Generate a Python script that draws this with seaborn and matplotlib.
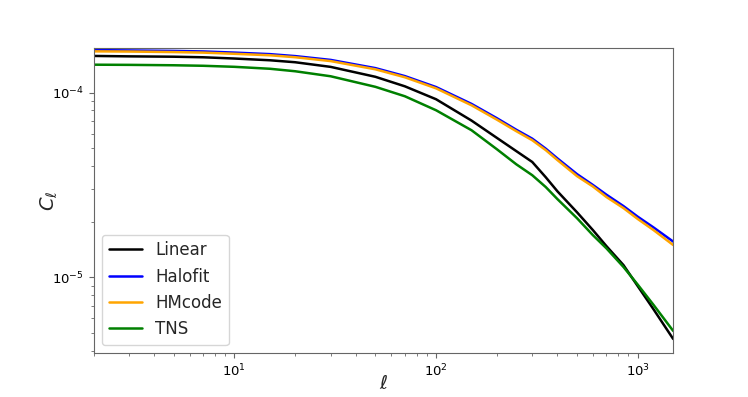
import numpy as np
import pandas as pd
import matplotlib
matplotlib.use('Agg')
import matplotlib.pyplot as plt
import seaborn as sns

# multipole values
ell = [2, 3, 5, 7, 10, 15, 20, 30, 50, 70, 100, 150, 200, 250, 300, 350, 400, 500,
       600, 700, 850, 1000, 1200, 1500]

# angular power spectra C_ell for each model
cl_linear = [1.578e-4, 1.570e-4, 1.563e-4, 1.552e-4, 1.528e-4, 1.495e-4, 1.459e-4, 1.377e-4,
             1.217e-4, 1.081e-4, 9.20e-5, 7.05e-5, 5.69e-5, 4.82e-5, 4.21e-5, 3.48e-5,
             2.92e-5, 2.25e-5, 1.80e-5, 1.475e-5, 1.165e-5, 8.97e-6, 6.70e-6, 4.64e-6]
cl_halofit = [1.697e-4, 1.690e-4, 1.680e-4, 1.669e-4, 1.645e-4, 1.614e-4, 1.575e-4, 1.502e-4,
              1.356e-4, 1.228e-4, 1.071e-4, 8.68e-5, 7.27e-5, 6.29e-5, 5.63e-5, 4.97e-5,
              4.40e-5, 3.62e-5, 3.16e-5, 2.80e-5, 2.43e-5, 2.13e-5, 1.86e-5, 1.561e-5]
cl_hmcode = [1.671e-4, 1.667e-4, 1.656e-4, 1.645e-4, 1.621e-4, 1.591e-4, 1.553e-4, 1.480e-4,
             1.336e-4, 1.210e-4, 1.054e-4, 8.53e-5, 7.14e-5, 6.18e-5, 5.52e-5, 4.88e-5,
             4.31e-5, 3.53e-5, 3.10e-5, 2.72e-5, 2.37e-5, 2.07e-5, 1.80e-5, 1.496e-5]
cl_tns = [1.415e-4, 1.412e-4, 1.405e-4, 1.396e-4, 1.378e-4, 1.345e-4, 1.304e-4, 1.225e-4,
          1.074e-4, 9.55e-5, 8.02e-5, 6.25e-5, 4.94e-5, 4.09e-5, 3.57e-5, 3.08e-5,
          2.65e-5, 2.09e-5, 1.69e-5, 1.435e-5, 1.138e-5, 9.14e-6, 7.08e-6, 5.13e-6]

models = ['Linear', 'Halofit', 'HMcode', 'TNS']
colors = ['black', 'blue', 'orange', 'green']

df = pd.DataFrame({
    'ell': ell * 4,
    'cl': cl_linear + cl_halofit + cl_hmcode + cl_tns,
    'model': [m for m in models for _ in ell],
})

sns.set_style("ticks")
plt.rcParams['font.family'] = ['DejaVu Sans']
plt.rcParams['axes.edgecolor'] = '0.4'
plt.rcParams['xtick.color'] = '0.4'
plt.rcParams['ytick.color'] = '0.4'
plt.rcParams['xtick.labelcolor'] = 'black'
plt.rcParams['ytick.labelcolor'] = 'black'

fig, ax = plt.subplots(figsize=(7.48, 3.97), dpi=100)
fig.subplots_adjust(left=0.125, right=0.9, top=0.88, bottom=0.11)

sns.lineplot(data=df, x='ell', y='cl', hue='model', hue_order=models,
             palette=colors, linewidth=1.8, ax=ax)

ax.set_xscale('log')
ax.set_yscale('log')
ax.set_xlim(ell[0], ell[-1])
ax.set_ylim(3.88e-6, 1.75e-4)
ax.tick_params(axis='both', which='major', labelsize=9.5)

ax.set_xlabel(r'$\ell$', fontsize=14, labelpad=-4)
ax.set_ylabel(r'$C_\ell$', fontsize=14, labelpad=-6)

ax.legend(loc='lower left', fontsize=12, frameon=True)

fig.savefig('out.png', dpi=100)
